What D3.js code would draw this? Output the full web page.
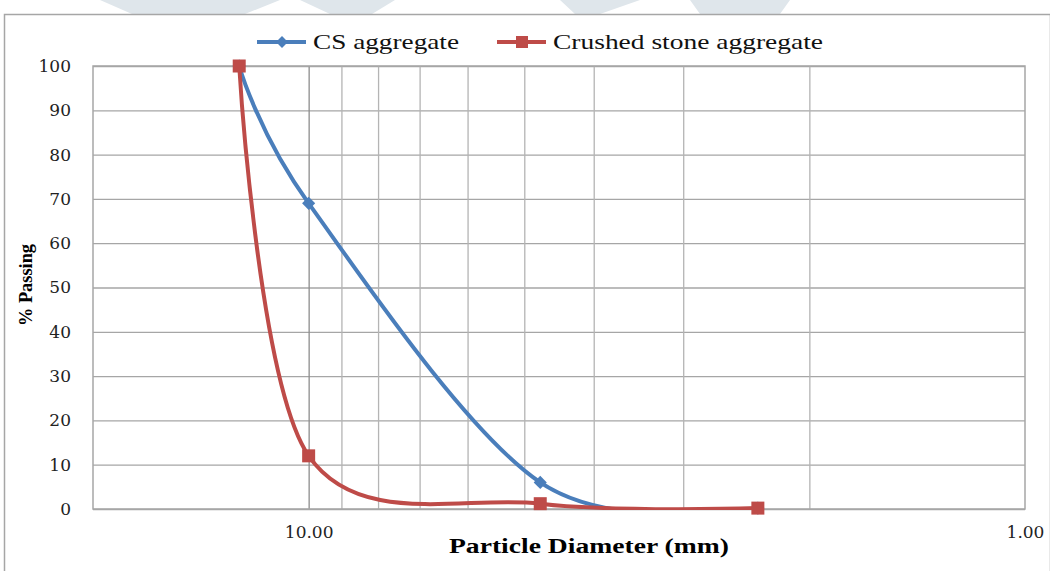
<!DOCTYPE html>
<html>
<head>
<meta charset="utf-8">
<script src="https://cdn.jsdelivr.net/npm/d3@7"></script>
<style>
  body { margin: 0; background: #fff; }
  svg { display: block; }
</style>
</head>
<body>
<div id="chart"></div>
<script>
// sieve sizes (mm) and % passing
var sizes = [12.5, 10, 4.75, 2.36];
var csPassing = [100, 69, 6, 0.2];
var crushedPassing = [100, 12, 1.2, 0.2];
var seriesNames = ["CS aggregate", "Crushed stone aggregate"];
var yTicks = [0, 10, 20, 30, 40, 50, 60, 70, 80, 90, 100];
var xLabelTicks = [10, 1];
var xGridTicks = [10, 9, 8, 7, 6, 5, 4, 3, 2];

var W = 1050, H = 571;
var margin = {top: 66, right: 25, bottom: 62, left: 93};

var svg = d3.select('#chart').append('svg')
    .attr('width', W)
    .attr('height', H);

// faint watermark pieces at the top edge
svg.append('path')
    .attr('d', 'M100,0 L395,0 L372,14 L330,14 L300,0 L280,0 L245,14 L132,14 Z')
    .attr('fill', '#dfe6eb');
svg.append('path')
    .attr('d', 'M560,0 L790,0 L780,14 L700,14 L690,0 L640,0 L600,14 L575,14 Z')
    .attr('fill', '#dfe6eb');

// outer chart border
svg.append('rect')
    .attr('x', 4.5).attr('y', 14.5)
    .attr('width', W - 4).attr('height', H)
    .attr('fill', 'none')
    .attr('stroke', '#a6a6a6')
    .attr('stroke-width', 1.5);

var x = d3.scaleLog()
    .domain([20, 1])
    .range([margin.left, W - margin.right]);

var y = d3.scaleLinear()
    .domain([0, 100])
    .range([H - margin.bottom, margin.top]);

// curves stay inside plot (flat along 0 like the original)
svg.append('clipPath').attr('id', 'plot-clip')
    .append('rect')
    .attr('x', 0).attr('y', 0)
    .attr('width', W).attr('height', y(0) + 1);

var g = svg.append('g');

// horizontal gridlines
g.append('g')
    .attr('transform', 'translate(' + margin.left + ',0)')
    .call(d3.axisLeft(y).tickValues(yTicks).tickSize(-(x.range()[1] - margin.left)).tickFormat(''))
    .call(function (s) {
        s.select('.domain').remove();
        s.selectAll('line').attr('stroke', '#a6a6a6').attr('stroke-width', 1.3);
    });

// vertical (log) gridlines
g.append('g')
    .attr('transform', 'translate(0,' + y(0) + ')')
    .call(d3.axisBottom(x).tickValues(xGridTicks).tickSize(-(y(0) - margin.top)).tickFormat(''))
    .call(function (s) {
        s.select('.domain').remove();
        s.selectAll('line')
            .attr('stroke', function (d) { return d == 10 ? '#8c8c8c' : '#b4b4b4'; })
            .attr('stroke-width', 1.3);
    });

// plot frame
g.append('rect')
    .attr('x', margin.left).attr('y', margin.top)
    .attr('width', x.range()[1] - margin.left)
    .attr('height', y(0) - margin.top)
    .attr('fill', 'none')
    .attr('stroke', '#a6a6a6')
    .attr('stroke-width', 1.5);

// y tick labels
g.append('g')
    .attr('transform', 'translate(' + margin.left + ',0)')
    .call(d3.axisLeft(y).tickValues(yTicks).tickSize(0).tickPadding(22))
    .call(function (s) {
        s.select('.domain').remove();
        s.selectAll('text')
            .attr('font-family', 'DejaVu Serif')
            .attr('font-size', 17)
            .attr('fill', '#222');
    });

// x tick labels
g.append('g')
    .attr('transform', 'translate(0,' + y(0) + ')')
    .call(d3.axisBottom(x).tickValues(xLabelTicks).tickSize(0).tickPadding(17)
        .tickFormat(d3.format('.2f')))
    .call(function (s) {
        s.select('.domain').remove();
        s.selectAll('text')
            .attr('font-family', 'DejaVu Serif')
            .attr('font-size', 17)
            .attr('fill', '#222');
    });

// axis titles
svg.append('text')
    .attr('x', 589).attr('y', 553)
    .attr('text-anchor', 'middle')
    .attr('font-family', 'Liberation Serif')
    .attr('font-weight', 'bold')
    .attr('font-size', 20)
    .attr('textLength', 280)
    .attr('lengthAdjust', 'spacingAndGlyphs')
    .text('Particle Diameter (mm)');

svg.append('text')
    .attr('transform', 'translate(32,285) rotate(-90)')
    .attr('text-anchor', 'middle')
    .attr('font-family', 'Liberation Serif')
    .attr('font-weight', 'bold')
    .attr('font-size', 19)
    .attr('textLength', 82)
    .attr('lengthAdjust', 'spacingAndGlyphs')
    .text('% Passing');

// series
var line = d3.line()
    .x(function (d) { return x(d[0]); })
    .y(function (d) { return y(d[1]); })
    .curve(d3.curveCardinal.tension(0));

var csData = sizes.map(function (s, i) { return [s, csPassing[i]]; });
var crushedData = sizes.map(function (s, i) { return [s, crushedPassing[i]]; });

var blue = '#4a7ebb', red = '#be4b48';

g.append('path')
    .datum(csData)
    .attr('clip-path', 'url(#plot-clip)')
    .attr('d', line)
    .attr('fill', 'none')
    .attr('stroke', blue)
    .attr('stroke-width', 4);

g.selectAll('.cs-pt').data(csData).enter().append('path')
    .attr('class', 'cs-pt')
    .attr('transform', function (d) { return 'translate(' + x(d[0]) + ',' + y(d[1]) + ')'; })
    .attr('d', d3.symbol().type(d3.symbolDiamond2).size(110))
    .attr('fill', blue);

g.append('path')
    .datum(crushedData)
    .attr('clip-path', 'url(#plot-clip)')
    .attr('d', line)
    .attr('fill', 'none')
    .attr('stroke', red)
    .attr('stroke-width', 4);

g.selectAll('.cr-pt').data(crushedData).enter().append('rect')
    .attr('class', 'cr-pt')
    .attr('x', function (d) { return x(d[0]) - 6.5; })
    .attr('y', function (d) { return y(d[1]) - 6.5; })
    .attr('width', 13).attr('height', 13)
    .attr('fill', red);

// legend
var legend = svg.append('g').attr('transform', 'translate(0,42)');
var legendItems = [
    {name: seriesNames[0], color: blue, x0: 257, tx: 313, tl: 146, marker: 'diamond'},
    {name: seriesNames[1], color: red, x0: 497, tx: 553, tl: 270, marker: 'square'}
];
legendItems.forEach(function (it) {
    legend.append('line')
        .attr('x1', it.x0).attr('x2', it.x0 + 49)
        .attr('stroke', it.color).attr('stroke-width', 4);
    if (it.marker == 'diamond') {
        legend.append('path')
            .attr('transform', 'translate(' + (it.x0 + 25) + ',0)')
            .attr('d', d3.symbol().type(d3.symbolDiamond2).size(90))
            .attr('fill', it.color);
    } else {
        legend.append('rect')
            .attr('x', it.x0 + 19).attr('y', -6)
            .attr('width', 12).attr('height', 12)
            .attr('fill', it.color);
    }
    legend.append('text')
        .attr('x', it.tx).attr('y', 7)
        .attr('font-family', 'Liberation Serif')
        .attr('font-size', 21)
        .attr('fill', '#111')
        .attr('textLength', it.tl)
        .attr('lengthAdjust', 'spacingAndGlyphs')
        .text(it.name);
});
</script>
</body>
</html>
